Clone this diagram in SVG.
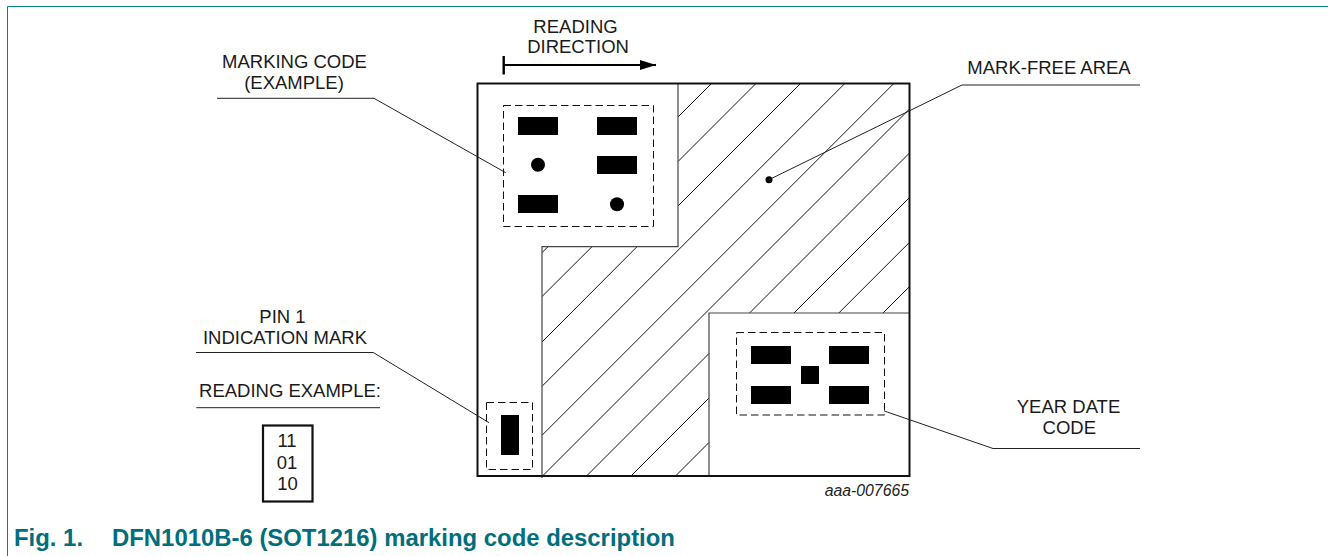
<svg xmlns="http://www.w3.org/2000/svg" width="1328" height="556" viewBox="0 0 1328 556">
<style>
text{font-family:"Liberation Sans",Arial,sans-serif;font-size:18.500px;fill:#1a1a1a;text-anchor:middle}
.h{stroke:#111;stroke-width:1;fill:none}
.l{stroke:#222;stroke-width:1;fill:none}
.d{stroke:#111;stroke-width:1;fill:none;stroke-dasharray:7.500 4}
.o{stroke:#444;stroke-width:1.200;fill:none}
.b{fill:#000;stroke:none}
</style>
<defs><marker id="ah" markerUnits="userSpaceOnUse" markerWidth="17" markerHeight="10" refX="16" refY="5" orient="auto"><path d="M0 0L16 5L0 10Z" fill="#000"/></marker></defs>
<rect width="1328" height="556" fill="#fff"/>
<path d="M7.500 556V6.500H1328" fill="none" stroke="#0b7f91" stroke-width="1"/>
<g id="package">
<path class="h" d="M711.700 83.300L678 117M678 161.500L756.200 83.300M678 206L800.700 83.300M845 83.300L542 386.300M894 83.300L542 435.300M909.300 109.200L542 476.500M909.300 153.200L749.500 313M709 353.500L586 476.500M909.300 197.700L794 313M709 398L631 476M909.300 242.500L838.800 313M709 442.500L675.500 476M909.300 286.800L883 313M542 252.500L548 246.700M542 296.500L592 246.700M542 342L637 246.700"/>
<path class="o" d="M678 83.300V246.700H542V478M709 476V313H909"/>
<rect x="477.500" y="83.500" width="432" height="392.500" fill="none" stroke="#111" stroke-width="2"/>
</g>
<g id="marking-code">
<rect class="d" x="503.500" y="105.500" width="150" height="121"/>
<rect class="b" x="518" y="117" width="40" height="18"/>
<rect class="b" x="597" y="117" width="40" height="18"/>
<rect class="b" x="597" y="156" width="40" height="18"/>
<rect class="b" x="518" y="195" width="40" height="18"/>
<circle class="b" cx="538" cy="164.700" r="7"/>
<circle class="b" cx="617" cy="204.300" r="7"/>
</g>
<g id="year-date-code">
<rect class="d" x="736.500" y="332.500" width="148" height="82.500"/>
<rect class="b" x="751" y="346" width="40" height="18"/>
<rect class="b" x="829" y="346" width="40" height="18"/>
<rect class="b" x="751" y="386" width="40" height="18"/>
<rect class="b" x="829" y="386" width="40" height="18"/>
<rect class="b" x="801" y="366" width="18" height="18"/>
</g>
<g id="pin-1">
<rect class="d" x="486.500" y="402.500" width="46" height="67"/>
<rect class="b" x="501" y="415" width="18" height="40"/>
</g>
<g id="mark-free-dot"><circle class="b" cx="769" cy="179.700" r="3.500"/></g>
<g id="connectors">
<path class="l" d="M217 98.300H374L505.700 172.700"/>
<path class="l" d="M196 352.500H373.300L489 422.700"/>
<path class="l" d="M769 179.700L962 85H1140"/>
<path class="l" d="M884.300 411L993 448.500H1140"/>
<path d="M196.300 407.700H380" stroke="#222" fill="none"/>
<path d="M503.700 56V74.500" stroke="#000" stroke-width="2.400" fill="none"/>
<path d="M504 65H656" stroke="#000" stroke-width="2" fill="none" marker-end="url(#ah)"/>
</g>
<g id="labels">
<text x="575.500" y="32.500">READING</text>
<text x="578" y="52.500">DIRECTION</text>
<text x="294.500" y="68.300">MARKING CODE</text>
<text x="294" y="89.300">(EXAMPLE)</text>
<text x="1049" y="74">MARK-FREE AREA</text>
<text x="282.500" y="323.300">PIN 1</text>
<text x="285" y="344.300">INDICATION MARK</text>
<text x="290" y="397">READING EXAMPLE:</text>
<text x="1068.500" y="412.700">YEAR DATE</text>
<text x="1069.300" y="434">CODE</text>
<text x="287" y="447">11</text>
<text x="287" y="469">01</text>
<text x="287.500" y="490">10</text>
<text x="909" y="496" style="font-size:15.800px;font-style:italic;text-anchor:end;fill:#222">aaa-007665</text>
</g>
<rect id="reading-box" x="263" y="425.500" width="49.500" height="76" fill="none" stroke="#111" stroke-width="2.200"/>
<text x="14" y="546" style="font-size:23.900px;font-weight:bold;fill:#006e7d;text-anchor:start">Fig. 1.</text>
<text x="112" y="546" style="font-size:23.900px;font-weight:bold;fill:#006e7d;text-anchor:start">DFN1010B-6 (SOT1216) marking code description</text>
</svg>
